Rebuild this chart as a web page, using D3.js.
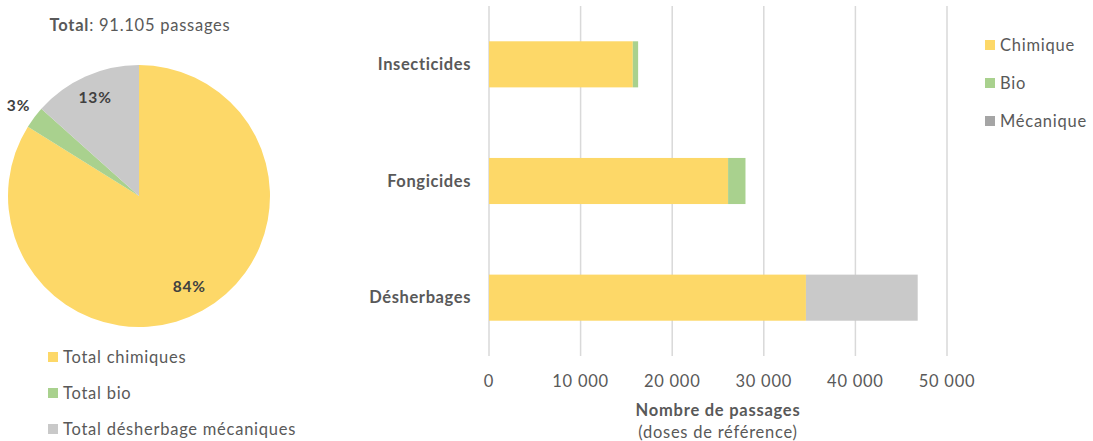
<!DOCTYPE html>
<html><head><meta charset="utf-8">
<script src="https://cdn.jsdelivr.net/npm/d3@7"></script>
<style>body{margin:0;background:#fff}svg{display:block;font-family:Lato,"Open Sans",sans-serif}</style>
</head><body><svg id="c" width="1093" height="441"></svg>
<script>
const categories = ["Insecticides", "Fongicides", "Désherbages"];
const chimique = [15700, 26100, 34600];
const bio = [580, 1900, 0];
const mecanique = [0, 0, 12200];
const seriesNames = ["Chimique", "Bio", "Mécanique"];
const xTicks = [0, 10000, 20000, 30000, 40000, 50000];
const pieLabels = ["Total chimiques", "Total bio", "Total désherbage mécaniques"];
const pieValues = [d3.sum(chimique), d3.sum(bio), d3.sum(mecanique)];
const totalText = "91.105 passages";

const colors = ["#FDD868", "#A9D18E", "#C9C9C9"];
const legendColors = ["#FDD868", "#A9D18E", "#A5A5A5"];
const textColor = "#595959";
const FS = 16.5, LS = "0.75px";
const svg = d3.select("#c");

// ---- Pie ----
const cx = 139, cy = 196, R = 131;
const pg = svg.append("g").attr("transform", `translate(${cx},${cy})`);
const pie = d3.pie().sort(null).value(d => d);
const arcs = pie(pieValues);
const arc = d3.arc().innerRadius(0).outerRadius(R);
pg.selectAll("path").data(arcs).join("path").attr("d", arc).attr("fill", (d, i) => colors[i]);
const total = d3.sum(pieValues);
const pct = v => Math.round(v / total * 100) + "%";
const labelPos = [
  d3.arc().innerRadius(R * 0.79).outerRadius(R * 0.79),
  d3.arc().innerRadius(R * 1.15).outerRadius(R * 1.15),
  d3.arc().innerRadius(R * 0.82).outerRadius(R * 0.82)
];
pg.selectAll("text.pl").data(arcs).join("text").attr("class", "pl")
  .attr("transform", (d, i) => `translate(${labelPos[i].centroid(d)})`)
  .attr("text-anchor", "middle").attr("dy", "0.35em")
  .attr("font-size", 15.5).attr("letter-spacing", "0.8px").attr("font-weight", "bold").attr("fill", "#404040")
  .text(d => pct(d.value));

const tt = svg.append("text").attr("x", 140).attr("y", 25).attr("dy", "0.35em").attr("text-anchor", "middle")
  .attr("font-size", FS).attr("letter-spacing", LS).attr("fill", textColor);
tt.append("tspan").attr("font-weight", "bold").text("Total");
tt.append("tspan").text(": " + totalText);

const pl = svg.append("g");
pieLabels.forEach((t, i) => {
  const y = 357 + i * 36;
  pl.append("rect").attr("x", 48).attr("y", y - 5).attr("width", 10).attr("height", 10).attr("fill", colors[i]);
  pl.append("text").attr("x", 63).attr("y", y).attr("dy", "0.35em").attr("font-size", FS).attr("letter-spacing", LS).attr("fill", textColor).text(t);
});

// ---- Bars ----
const x = d3.scaleLinear().domain([0, 50000]).range([489, 947]);
const y = d3.scaleBand().domain(categories).range([6, 356]).paddingInner(0.605).paddingOuter(0.3025);
const g = svg.append("g");
g.selectAll("line.grid").data(xTicks).join("line").attr("class", "grid")
  .attr("x1", d => x(d)).attr("x2", d => x(d)).attr("y1", 6).attr("y2", 356)
  .attr("stroke", "#D9D9D9").attr("stroke-width", 1.5);
const stackData = categories.map((c, i) => ({cat: c, Chimique: chimique[i], Bio: bio[i], "Mécanique": mecanique[i]}));
const stack = d3.stack().keys(seriesNames)(stackData);
stack.forEach((s, si) => {
  g.selectAll(null).data(s).join("rect")
    .attr("x", d => x(d[0])).attr("width", d => x(d[1]) - x(d[0]))
    .attr("y", d => y(d.data.cat)).attr("height", y.bandwidth())
    .attr("fill", colors[si]);
});
g.selectAll("text.cat").data(categories).join("text").attr("class", "cat")
  .attr("x", 471).attr("y", d => y(d) + y.bandwidth() / 2).attr("dy", "0.35em")
  .attr("text-anchor", "end").attr("font-size", FS).attr("letter-spacing", "0.6px").attr("font-weight", "bold").attr("fill", textColor).text(d => d);
const fmt = d => d === 0 ? "0" : d3.format(",")(d).replace(",", " ");
g.selectAll("text.tick").data(xTicks).join("text").attr("class", "tick")
  .attr("x", d => x(d)).attr("y", 381).attr("dy", "0.35em").attr("text-anchor", "middle")
  .attr("font-size", FS).attr("letter-spacing", LS).attr("fill", textColor).text(fmt);
svg.append("text").attr("x", 718).attr("y", 410).attr("dy", "0.35em").attr("text-anchor", "middle")
  .attr("font-size", FS).attr("letter-spacing", LS).attr("font-weight", "bold").attr("fill", textColor).text("Nombre de passages");
svg.append("text").attr("x", 718).attr("y", 432).attr("dy", "0.35em").attr("text-anchor", "middle")
  .attr("font-size", FS).attr("letter-spacing", LS).attr("fill", textColor).text("(doses de référence)");

const lg = svg.append("g");
seriesNames.forEach((t, i) => {
  const yy = 45 + i * 38;
  lg.append("rect").attr("x", 985).attr("y", yy - 5).attr("width", 10).attr("height", 10).attr("fill", legendColors[i]);
  lg.append("text").attr("x", 1000).attr("y", yy).attr("dy", "0.35em").attr("font-size", FS).attr("letter-spacing", LS).attr("fill", textColor).text(t);
});
</script></body></html>
